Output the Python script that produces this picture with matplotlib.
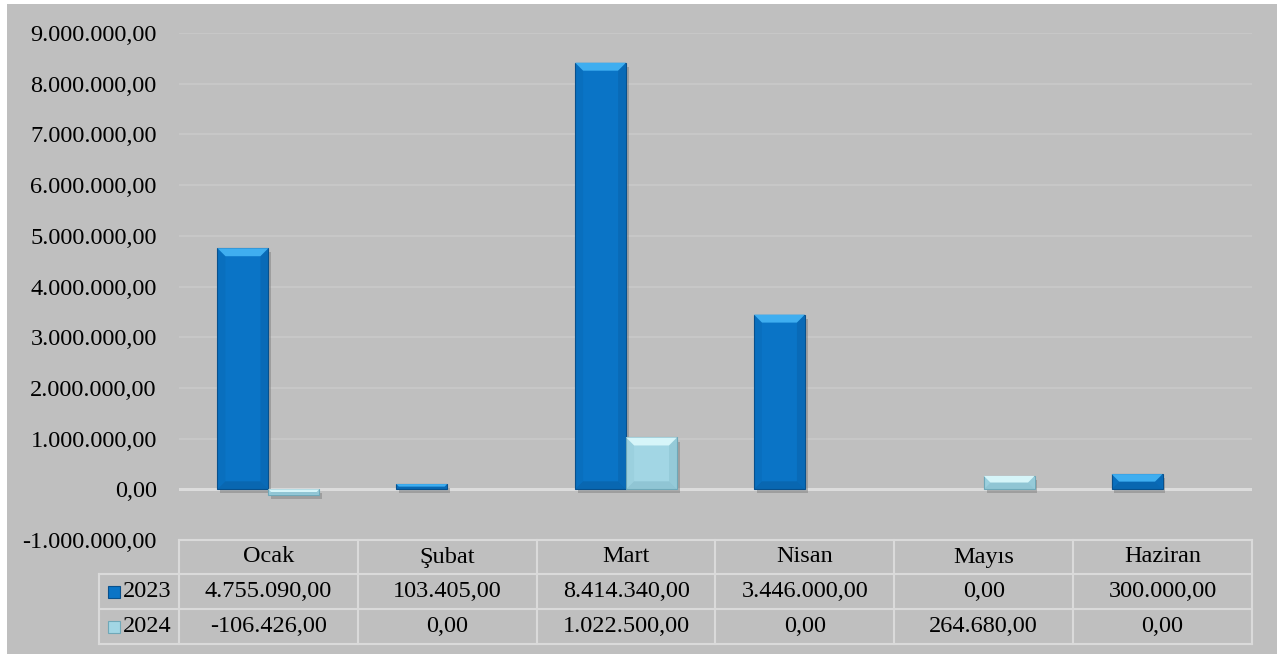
import numpy as np
import matplotlib
matplotlib.use("Agg")
import matplotlib.pyplot as plt
from matplotlib.patches import Polygon
from matplotlib.ticker import FuncFormatter
import matplotlib.patheffects as pe

# Data
months = ["Ocak", "Şubat", "Mart", "Nisan", "Mayıs", "Haziran"]
series_names = ["2023", "2024"]
values_2023 = [4755090.00, 103405.00, 8414340.00, 3446000.00, 0.00, 300000.00]
values_2024 = [-106426.00, 0.00, 1022500.00, 0.00, 264680.00, 0.00]

colors = ["#0A74C6", "#A2D6E4"]
top_colors = ["#3FAEF0", "#D6F5F9"]
side_colors = ["#08508C", "#6FA8B8"]
bg = "#BFBFBF"


def tr_format(v, decimals=2):
    s = f"{abs(v):,.{decimals}f}"
    s = s.replace(",", "X").replace(".", ",").replace("X", ".")
    return ("-" if v < 0 else "") + s


plt.rcParams['font.family'] = ['Liberation Serif', 'DejaVu Serif']
fs = 17.5

fig = plt.figure(figsize=(12.77, 6.54), dpi=100)
fig.patch.set_facecolor("white")
W, H = 1277, 654
# grey chart area with thin white margin
fig.patches.append(plt.Rectangle((7 / W, 0), 1 - 7 / W, 1 - 4 / H,
                                 transform=fig.transFigure, facecolor=bg,
                                 edgecolor="none", zorder=-10))

ax_left, ax_right = 179 / W, 1252 / W
ax_top, ax_bot = 1 - 33 / H, 1 - 540 / H
ax = fig.add_axes([ax_left, ax_bot, ax_right - ax_left, ax_top - ax_bot])
ax.set_facecolor(bg)
ax.set_xlim(-0.5, len(months) - 0.5)
ax.set_ylim(-1000000, 9000000)
ax.set_yticks(np.arange(-1000000, 9000001, 1000000))
ax.yaxis.set_major_formatter(FuncFormatter(lambda v, p: tr_format(v)))
ax.tick_params(axis="y", length=0, labelsize=fs, pad=16, colors="black")
ax.set_xticks([])
for s in ax.spines.values():
    s.set_visible(False)
ax.grid(axis="y", color="#C7C7C7", linewidth=1.5)
ax.set_axisbelow(True)
ax.axhline(0, color="#DCDCDC", linewidth=2.2, zorder=1)

x = np.arange(len(months))
bw = 0.285
shadow = [pe.SimplePatchShadow(offset=(2, -3), shadow_rgbFace="#7F7F7F", alpha=0.5), pe.Normal()]
bars = []
for i, vals in enumerate([values_2023, values_2024]):
    b = ax.bar(x + (i - 0.5) * bw, vals, width=bw, color=colors[i],
               edgecolor=side_colors[i], linewidth=0.8, zorder=3,
               path_effects=shadow)
    for rect, v in zip(b, vals):
        if v == 0:
            rect.set_visible(False)
    bars.append(b)

# bevel on each bar (drawn in pixel space)
fig.canvas.draw()
inv = ax.transData.inverted()
for i, b in enumerate(bars):
    for rect in b:
        h = rect.get_height()
        if h == 0:
            continue
        x0, y0 = rect.get_x(), rect.get_y()
        x1, y1 = x0 + rect.get_width(), y0 + h
        (px0, py0) = ax.transData.transform((x0, min(y0, y1)))
        (px1, py1) = ax.transData.transform((x1, max(y0, y1)))
        d = min(8, (py1 - py0) / 2)
        top = [(px0, py1), (px1, py1), (px1 - d, py1 - d), (px0 + d, py1 - d)]
        bot = [(px0, py0), (px1, py0), (px1 - d, py0 + d), (px0 + d, py0 + d)]
        left = [(px0, py0), (px0 + d, py0 + d), (px0 + d, py1 - d), (px0, py1)]
        right = [(px1, py0), (px1 - d, py0 + d), (px1 - d, py1 - d), (px1, py1)]
        for pts, c, a in [(top, top_colors[i], 1.0), (bot, side_colors[i], 0.35),
                          (left, side_colors[i], 0.12), (right, side_colors[i], 0.25)]:
            ax.add_patch(Polygon(inv.transform(pts), closed=True, facecolor=c,
                                 edgecolor="none", alpha=a, zorder=4))

# data table below the axes
line_c = "#DADADA"
tx = fig.transFigure
col_edges = [ax.transData.transform((k - 0.5, 0))[0] / W for k in range(len(months) + 1)]
label_left = 99 / W
y_top, y_h, y_r1, y_r2 = 1 - 540 / H, 1 - 574 / H, 1 - 609 / H, 1 - 644 / H
lw = 1.5
fig.add_artist(plt.Line2D([col_edges[0], col_edges[-1]], [y_top, y_top], color=line_c, lw=lw, transform=tx))
for yy in [y_h, y_r1, y_r2]:
    fig.add_artist(plt.Line2D([label_left, col_edges[-1]], [yy, yy], color=line_c, lw=lw, transform=tx))
for xe in col_edges:
    fig.add_artist(plt.Line2D([xe, xe], [y_top, y_r2], color=line_c, lw=lw, transform=tx))
fig.add_artist(plt.Line2D([label_left, label_left], [y_h, y_r2], color=line_c, lw=lw, transform=tx))

for k, m in enumerate(months):
    cx = (col_edges[k] + col_edges[k + 1]) / 2
    fig.text(cx, (y_top + y_h) / 2, m, ha="center", va="center", fontsize=fs)
    fig.text(cx, (y_h + y_r1) / 2, tr_format(values_2023[k]), ha="center", va="center", fontsize=fs)
    fig.text(cx, (y_r1 + y_r2) / 2, tr_format(values_2024[k]), ha="center", va="center", fontsize=fs)

for j, (name, yc) in enumerate(zip(series_names, [(y_h + y_r1) / 2, (y_r1 + y_r2) / 2])):
    sq = 12
    fig.patches.append(plt.Rectangle((108 / W, yc - sq / 2 / H), sq / W, sq / H,
                                     transform=tx, facecolor=colors[j],
                                     edgecolor=side_colors[j], lw=0.8))
    fig.text(123 / W, yc, name, ha="left", va="center", fontsize=fs)

fig.savefig("out.png", dpi=100, facecolor="white")
